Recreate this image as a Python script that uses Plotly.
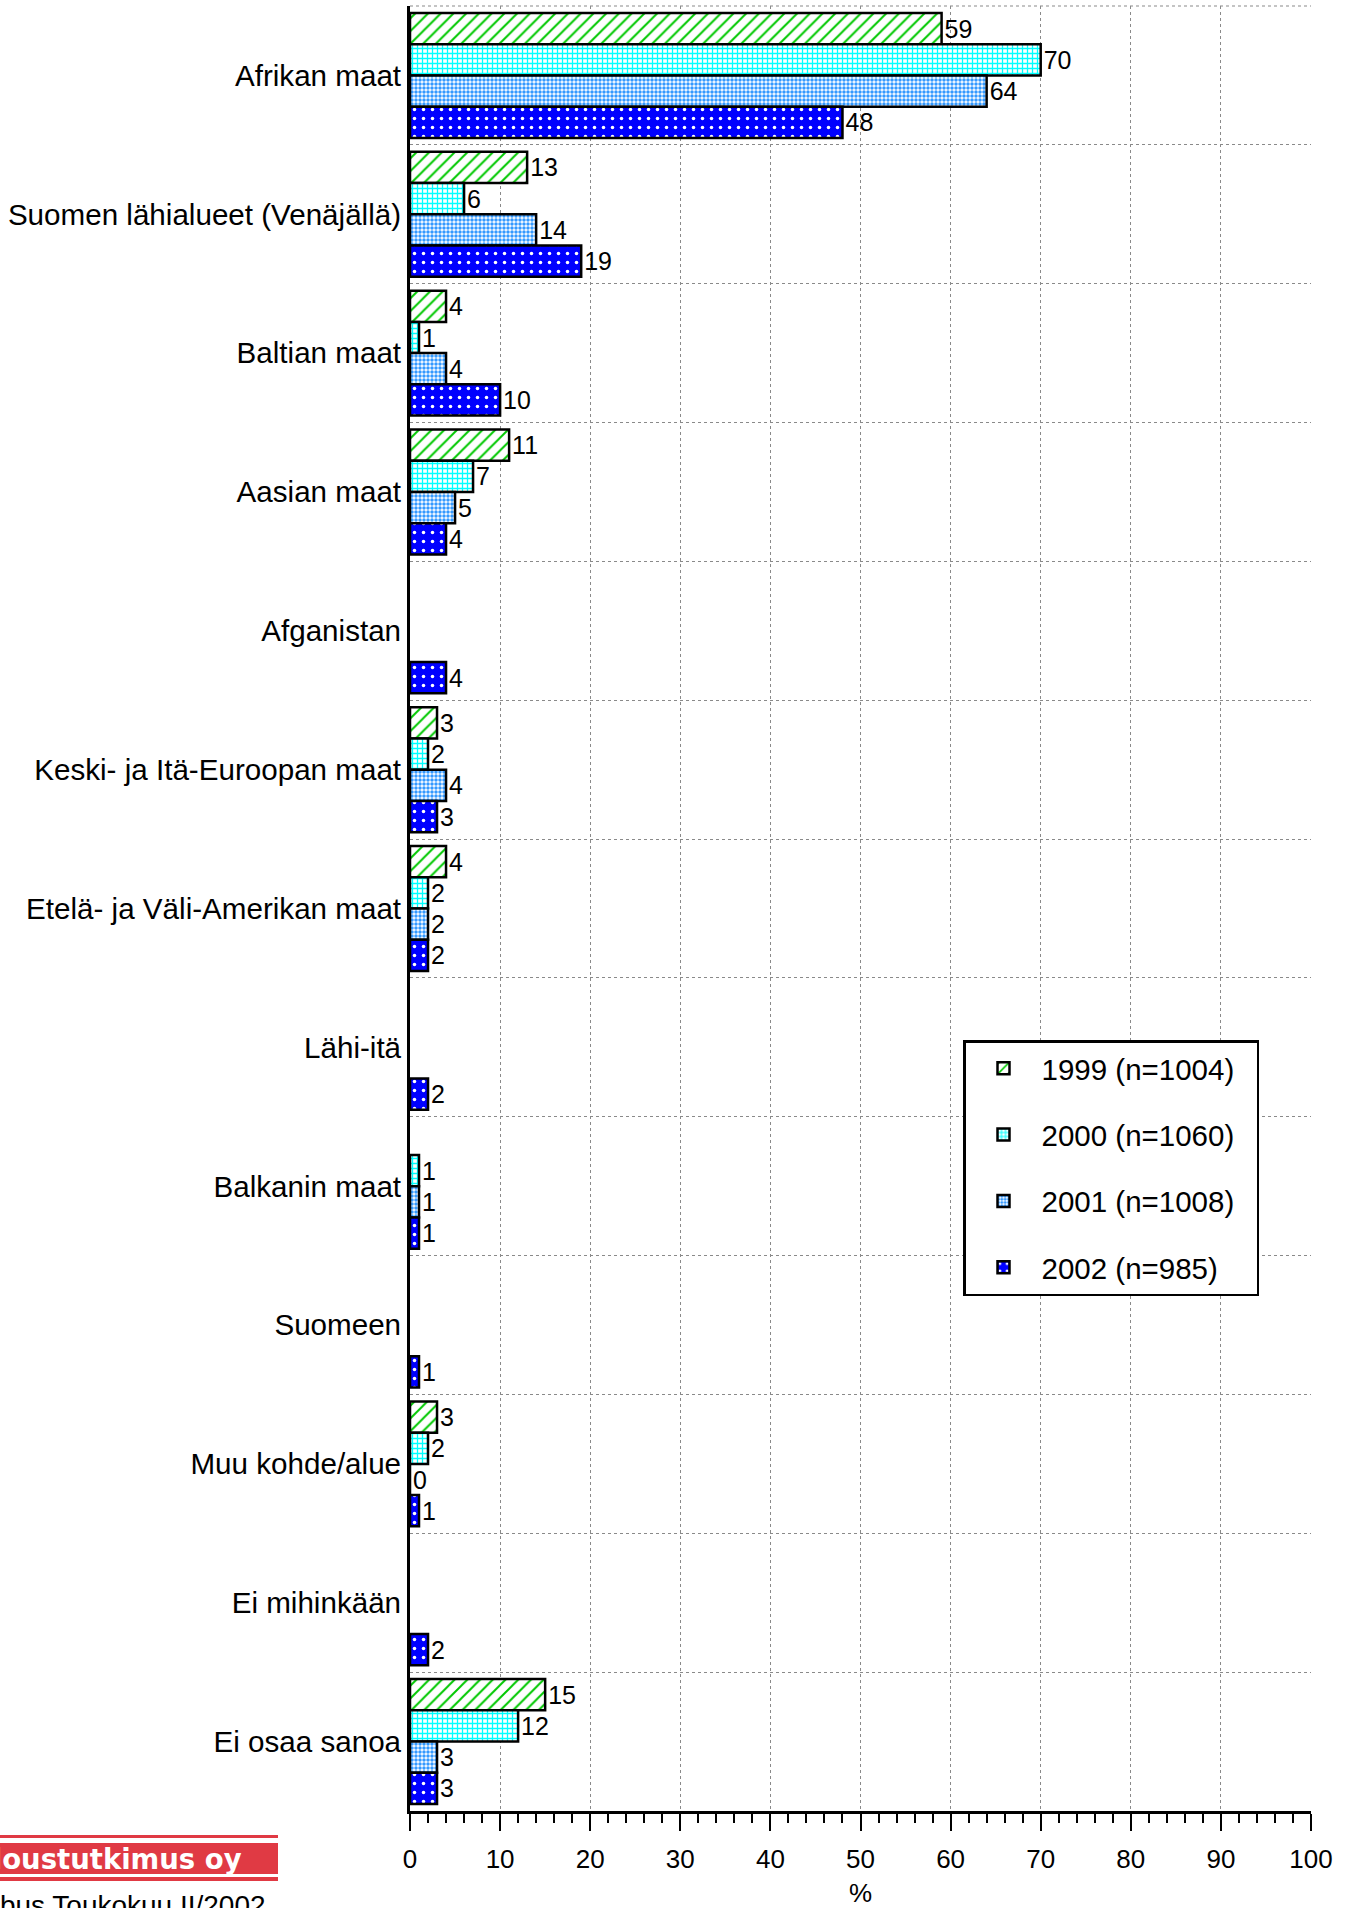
import plotly.graph_objects as go

categories = [
    "Afrikan maat",
    "Suomen lähialueet (Venäjällä)",
    "Baltian maat",
    "Aasian maat",
    "Afganistan",
    "Keski- ja Itä-Euroopan maat",
    "Etelä- ja Väli-Amerikan maat",
    "Lähi-itä",
    "Balkanin maat",
    "Suomeen",
    "Muu kohde/alue",
    "Ei mihinkään",
    "Ei osaa sanoa",
]

v1999 = [59, 13, 4, 11, None, 3, 4, None, None, None, 3, None, 15]
v2000 = [70, 6, 1, 7, None, 2, 2, None, 1, None, 2, None, 12]
v2001 = [64, 14, 4, 5, None, 4, 2, None, 1, None, 0, None, 3]
v2002 = [48, 19, 10, 4, 4, 3, 2, 2, 1, 1, 1, 2, 3]

series_names = ["1999 (n=1004)", "2000 (n=1060)", "2001 (n=1008)", "2002 (n=985)"]
x_ticks = [0, 10, 20, 30, 40, 50, 60, 70, 80, 90, 100]

styles = [
    dict(shape="/", fgcolor="#00c800", bgcolor="white", size=9, solidity=0.22),
    dict(shape="+", fgcolor="#00ffff", bgcolor="white", size=5, solidity=0.45),
    dict(shape=".", fgcolor="#3399ff", bgcolor="white", size=4, solidity=0.6),
    dict(shape=".", fgcolor="white", bgcolor="#0000ff", size=9, solidity=0.12),
]

W, H = 1354, 1908
L, R, T, B = 410, 43, 6, 97
PW = W - L - R
PH = H - T - B


def px_x(px):
    return (px - L) / PW


def px_y(py):
    return (H - B - py) / PH


fig = go.Figure()
for name, vals, st in zip(series_names, [v1999, v2000, v2001, v2002], styles):
    fig.add_trace(go.Bar(
        y=categories,
        x=vals,
        orientation="h",
        name=name + "\u00a0\u00a0",
        legendgroup=name,
        marker=dict(
            color=st["bgcolor"],
            pattern=dict(shape=st["shape"], fgcolor=st["fgcolor"], bgcolor=st["bgcolor"],
                         size=st["size"], solidity=st["solidity"], fillmode="replace"),
            line=dict(color="black", width=2.5),
        ),
        text=["" if v is None else str(v) for v in vals],
        textposition="outside",
        textfont=dict(size=25, color="black", family="Liberation Sans, Arial, sans-serif"),
        constraintext="none",
        cliponaxis=False,
    ))

fig.update_layout(
    width=W, height=H,
    margin=dict(l=L, r=R, t=T, b=B, pad=0),
    paper_bgcolor="white",
    plot_bgcolor="white",
    barmode="group",
    bargap=0.1,
    bargroupgap=0,
    font=dict(family="Liberation Sans, Arial, sans-serif", color="black"),
    showlegend=True,
    legend=dict(
        x=px_x(963), y=px_y(1040), xanchor="left", yanchor="top",
        bgcolor="white", bordercolor="black", borderwidth=2.5,
        font=dict(size=29.5, color="black"),
        traceorder="grouped", tracegroupgap=25,
        itemwidth=66,
    ),
    xaxis=dict(
        range=[0, 100],
        tickvals=x_ticks,
        ticktext=[str(t) for t in x_ticks],
        ticks="outside", ticklen=17, tickwidth=2, tickcolor="black",
        tickfont=dict(size=26, color="black"),
        ticklabelstandoff=6,
        minor=dict(dtick=2, ticks="outside", ticklen=9, tickwidth=1.5, tickcolor="black", showgrid=False),
        showline=True, linecolor="black", linewidth=3,
        showgrid=True, gridcolor="#8a8a8a", griddash="dot", gridwidth=1.2,
        zeroline=False,
        automargin=False,
        title=dict(text="%", font=dict(size=26, color="black"), standoff=12),
        fixedrange=True,
    ),
    yaxis=dict(
        type="category",
        autorange="reversed",
        tickson="boundaries",
        ticks="",
        tickfont=dict(size=29.6, color="black"),
        ticklabelstandoff=0,
        showline=True, linecolor="black", linewidth=3,
        showgrid=True, gridcolor="#8a8a8a", griddash="dot", gridwidth=1.2,
        automargin=False,
        fixedrange=True,
    ),
)

# top border of plot area (dotted gray like the grid)
fig.add_shape(type="line", xref="paper", yref="paper", x0=0, x1=1, y0=1, y1=1,
              line=dict(color="#8a8a8a", width=1.2, dash="dot"))

# logo in bottom-left corner (partly cut off)
red = "#e03a44"
fig.add_shape(type="rect", xref="paper", yref="paper",
              x0=px_x(-5), x1=px_x(278), y0=px_y(1838), y1=px_y(1835),
              fillcolor=red, line=dict(width=0), layer="above")
fig.add_shape(type="rect", xref="paper", yref="paper",
              x0=px_x(-5), x1=px_x(278), y0=px_y(1874), y1=px_y(1843),
              fillcolor=red, line=dict(width=0), layer="above")
fig.add_shape(type="rect", xref="paper", yref="paper",
              x0=px_x(-5), x1=px_x(278), y0=px_y(1881), y1=px_y(1877),
              fillcolor=red, line=dict(width=0), layer="above")
fig.add_annotation(xref="paper", yref="paper", x=px_x(244), y=px_y(1859),
                   xanchor="right", yanchor="middle", showarrow=False,
                   text="<b>Taloustutkimus oy</b>",
                   font=dict(size=27.5, color="white", family="DejaVu Sans, Verdana, sans-serif"))
fig.add_annotation(xref="paper", yref="paper", x=px_x(268), y=px_y(1888),
                   xanchor="right", yanchor="top", showarrow=False,
                   text="Omnibus Toukokuu II/2002",
                   font=dict(size=28, color="black", family="Liberation Sans, Arial, sans-serif"))

fig.write_html("out.html", config={"displayModeBar": False},
               post_script="document.body.style.margin='0';document.body.style.padding='0';")
